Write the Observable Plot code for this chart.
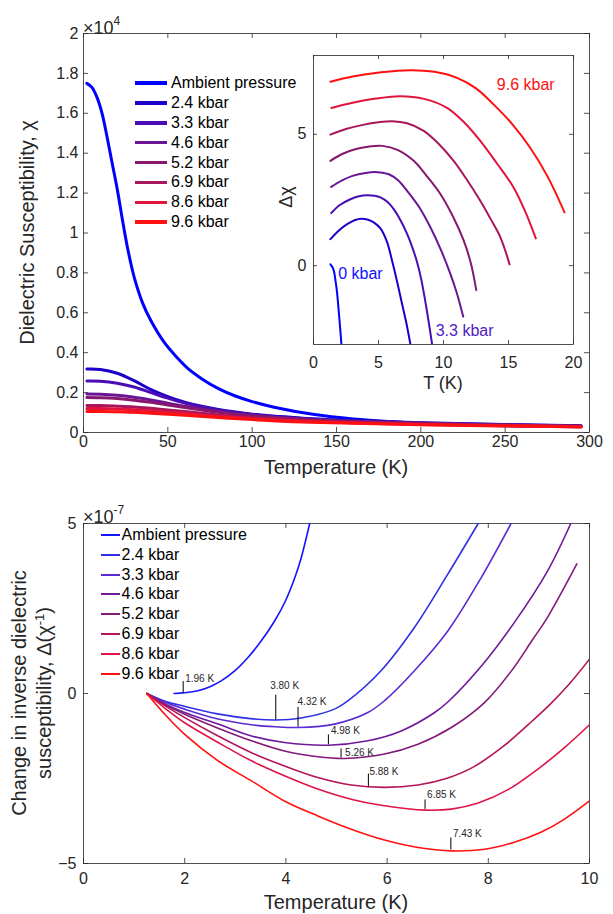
<!DOCTYPE html>
<html><head><meta charset="utf-8">
<script src="https://cdn.jsdelivr.net/npm/d3@7"></script>
<script src="https://cdn.jsdelivr.net/npm/@observablehq/plot@0.6"></script>
<style>
body{margin:0;background:#fff;font-family:"Liberation Sans",Arial,sans-serif;}
#wrap{position:relative;width:613px;height:914px;overflow:hidden;}
#wrap svg{position:absolute;}
.leg{position:absolute;font-size:16px;color:#000;}
.leg .row{display:flex;align-items:center;white-space:nowrap;}
.leg .ln{display:inline-block;}
.expo{position:absolute;font-size:18px;color:#262626;line-height:20px;white-space:nowrap;}
.expo sup{font-size:12px;position:relative;top:-2px;}
</style></head><body><div id="wrap"></div>
<script>
// ---------- series ----------
const seriesNames = ["Ambient pressure","2.4 kbar","3.3 kbar","4.6 kbar","5.2 kbar","6.9 kbar","8.6 kbar","9.6 kbar"];
const topColors = ["#0000ff","#1a00c8","#4a0cb4","#6a1496","#86186e","#a8165c","#e0143c","#ff1010"];
const bottomColors = ["#1414ff","#3030e6","#5a2ad2","#6e1a9a","#821a7a","#b4145a","#e01446","#ff1010"];

// ---------- top panel: chi (x1e4) vs T (K) ----------
const ambT = [2,5,8,11,14,17,20,23,26,30,35,40,48,55,62,70,80,90,100,113,137,160,183,206,250,295];
const ambChi = [1.75,1.73,1.68,1.6,1.48,1.35,1.22,1.07,0.93,0.78,0.65,0.56,0.45,0.38,0.32,0.27,0.22,0.183,0.155,0.127,0.09,0.068,0.054,0.044,0.034,0.029];
const presT = [2,10,20,30,40,50,60,80,100,130,160,200,250,295];
const chi24 = [0.318,0.316,0.297,0.26,0.215,0.18,0.152,0.115,0.092,0.072,0.06,0.049,0.04,0.034];
const chi33 = [0.258,0.257,0.247,0.228,0.2,0.172,0.148,0.113,0.09,0.07,0.058,0.048,0.039,0.033];
const chi46 = [0.193,0.192,0.187,0.177,0.163,0.147,0.132,0.105,0.086,0.067,0.056,0.046,0.038,0.032];
const chi52 = [0.175,0.174,0.17,0.162,0.151,0.138,0.125,0.101,0.083,0.065,0.054,0.045,0.037,0.031];
const chi69 = [0.135,0.135,0.132,0.128,0.121,0.113,0.105,0.088,0.074,0.06,0.05,0.042,0.035,0.03];
const chi86 = [0.12,0.12,0.118,0.114,0.109,0.102,0.095,0.081,0.069,0.056,0.048,0.04,0.034,0.029];
const chi96 = [0.105,0.105,0.104,0.101,0.097,0.092,0.086,0.075,0.065,0.053,0.046,0.039,0.033,0.028];
const topXTicks = [0,50,100,150,200,250,300];
const topYTicks = [0,0.2,0.4,0.6,0.8,1,1.2,1.4,1.6,1.8,2];

// ---------- inset: delta chi vs T ----------
const inT0 = [1.3,1.45,1.56,1.7,1.82,2.02,2.15];
const inD0 = [0.05,-0.05,-0.18,-0.6,-1.06,-2.2,-3.0];
const inT24 = [1.3,2.0,2.59,3.2,3.69,4.2,4.63,5.15,5.66,6.04,6.45,6.81,7.15,7.45];
const inD24 = [1.01,1.36,1.58,1.74,1.79,1.75,1.65,1.42,0.9,0.2,-0.65,-1.45,-2.2,-2.98];
const inT33 = [1.36,2.0,2.8,3.5,4.12,4.7,5.15,5.7,6.17,6.7,7.2,7.6,7.96,8.3,8.7,9.12];
const inD33 = [2.0,2.3,2.52,2.64,2.68,2.66,2.6,2.42,2.15,1.72,1.21,0.7,0.15,-0.55,-1.65,-2.98];
const inT46 = [1.36,2.2,3.0,4.0,4.89,5.8,6.5,7.2,8.1,8.99,9.8,10.52,11.0,11.52];
const inD46 = [3.0,3.25,3.42,3.53,3.56,3.48,3.25,2.85,2.25,1.46,0.6,-0.3,-1.0,-1.94];
const inT52 = [1.3,2.2,3.2,4.2,5.28,6.5,7.71,8.7,9.76,10.7,11.55,12.1,12.52];
const inD52 = [3.99,4.25,4.43,4.53,4.56,4.4,3.99,3.42,2.73,1.9,0.96,0.1,-0.93];
const inT69 = [1.3,2.5,3.8,5.0,6.04,7.2,8.48,9.6,10.78,11.8,12.83,13.6,14.37,15.08];
const inD69 = [4.99,5.2,5.36,5.46,5.5,5.42,5.13,4.65,3.99,3.27,2.47,1.8,1.09,0.05];
const inT86 = [1.38,3.0,4.8,6.68,8.5,10.27,11.6,12.83,14.1,15.39,16.3,17.1];
const inD86 = [6.0,6.2,6.36,6.45,6.35,6.01,5.45,4.75,3.9,2.98,2.05,1.04];
const inT96 = [1.3,3.0,5.2,7.45,9.3,11.04,12.5,13.85,15.3,16.67,18.0,19.31];
const inD96 = [7.0,7.2,7.36,7.44,7.38,7.15,6.75,6.14,5.38,4.49,3.4,2.03];
const insetXTicks = [0,5,10,15,20];
const insetYTicks = [0,5];
const insetLabels = ["0 kbar","3.3 kbar","9.6 kbar"];
const insetLabelT = [1.9,9.4,14.1];
const insetLabelD = [-0.3,-2.5,6.9];
const insetLabelColors = ["#1010ff","#5020c8","#ff1010"];

// ---------- bottom panel: delta(1/chi) (x1e-7) vs T ----------
const bT_amb = [1.79,2.0,2.26,2.5,2.72,3.0,3.25,3.5,3.78,4.0,4.17,4.3,4.47];
const bV_amb = [0,0.02,0.08,0.2,0.37,0.68,1.06,1.52,2.14,2.75,3.38,3.98,5.0];
const bT_24 = [1.25,1.6,2.0,2.65,3.3,3.8,4.3,4.96,5.23,5.88,6.54,7.2,7.8];
const bV_24 = [0,-0.22,-0.38,-0.6,-0.74,-0.78,-0.72,-0.46,-0.21,0.67,1.94,3.51,5.0];
const bT_33 = [1.25,1.6,2.0,2.66,3.32,3.8,4.25,4.96,5.62,5.95,6.54,7.2,7.86,8.45];
const bV_33 = [0,-0.25,-0.46,-0.75,-0.92,-0.98,-1.0,-0.9,-0.56,-0.21,0.67,1.84,3.41,5.0];
const bT_46 = [1.25,1.6,2.0,2.66,3.32,3.97,4.84,5.62,6.28,6.94,7.2,7.86,8.52,9.17,9.63];
const bV_46 = [0,-0.3,-0.56,-0.9,-1.25,-1.44,-1.52,-1.39,-1.1,-0.56,-0.25,0.8,2.1,3.6,5.0];
const bT_52 = [1.25,1.6,2.0,2.66,3.32,3.97,4.63,5.16,5.95,6.61,7.27,7.93,8.46,8.86,9.17,9.75];
const bV_52 = [0,-0.32,-0.61,-1.02,-1.39,-1.69,-1.86,-1.91,-1.78,-1.49,-1.0,-0.26,0.67,1.55,2.24,3.81];
const bT_69 = [1.25,1.6,2.0,2.66,3.32,3.97,4.63,5.29,5.95,6.61,7.17,7.72,8.3,8.8,9.2,9.6,10];
const bV_69 = [0,-0.35,-0.71,-1.25,-1.74,-2.13,-2.47,-2.69,-2.76,-2.69,-2.5,-2.15,-1.55,-0.9,-0.35,0.28,1.01];
const bT_86 = [1.25,1.6,2.0,2.66,3.32,3.97,4.63,5.29,5.95,6.75,7.27,7.8,8.4,9.0,9.5,10];
const bV_86 = [0,-0.42,-0.86,-1.44,-1.98,-2.42,-2.81,-3.11,-3.3,-3.43,-3.4,-3.22,-2.82,-2.2,-1.6,-0.92];
const bT_96 = [1.25,1.6,2.0,2.66,3.32,3.97,4.63,5.29,5.95,6.61,7.27,7.93,8.5,9.04,9.5,10];
const bV_96 = [0,-0.6,-1.2,-1.98,-2.57,-3.16,-3.6,-3.99,-4.31,-4.53,-4.63,-4.58,-4.38,-4.08,-3.7,-3.16];
const bottomXTicks = [0,2,4,6,8,10];
const bottomYTicks = [-5,0,5];
// minima markers
const minLabels = ["1.96 K","3.80 K","4.32 K","4.98 K","5.26 K","5.88 K","6.85 K","7.43 K"];
const markT = [1.97,3.80,4.24,4.84,5.09,5.63,6.75,7.26];
const markBottom = [0,-0.78,-0.99,-1.51,-1.90,-2.75,-3.41,-4.60];
const markTop = [0.35,-0.05,-0.41,-1.22,-1.63,-2.37,-3.13,-4.25];
const labelT = [2.01,3.69,4.23,4.89,5.17,5.65,6.79,7.30];
const labelV = [0.42,0.23,-0.24,-1.10,-1.74,-2.29,-2.98,-4.12];

// ---------- build tables ----------
function rows(Ts, Vs, name){ return Ts.map((t,i)=>({T:t, v:Vs[i], s:name})); }
const topData = [
  ...rows(ambT, ambChi, seriesNames[0]),
  ...rows(presT, chi24, seriesNames[1]),
  ...rows(presT, chi33, seriesNames[2]),
  ...rows(presT, chi46, seriesNames[3]),
  ...rows(presT, chi52, seriesNames[4]),
  ...rows(presT, chi69, seriesNames[5]),
  ...rows(presT, chi86, seriesNames[6]),
  ...rows(presT, chi96, seriesNames[7])
];
const insetData = [
  ...rows(inT0, inD0, seriesNames[0]),
  ...rows(inT24, inD24, seriesNames[1]),
  ...rows(inT33, inD33, seriesNames[2]),
  ...rows(inT46, inD46, seriesNames[3]),
  ...rows(inT52, inD52, seriesNames[4]),
  ...rows(inT69, inD69, seriesNames[5]),
  ...rows(inT86, inD86, seriesNames[6]),
  ...rows(inT96, inD96, seriesNames[7])
];
const bottomData = [
  ...rows(bT_amb, bV_amb, seriesNames[0]),
  ...rows(bT_24, bV_24, seriesNames[1]),
  ...rows(bT_33, bV_33, seriesNames[2]),
  ...rows(bT_46, bV_46, seriesNames[3]),
  ...rows(bT_52, bV_52, seriesNames[4]),
  ...rows(bT_69, bV_69, seriesNames[5]),
  ...rows(bT_86, bV_86, seriesNames[6]),
  ...rows(bT_96, bV_96, seriesNames[7])
];
const markers = minLabels.map((l,i)=>({label:l, T:markT[i], b:markBottom[i], t:markTop[i], lt:labelT[i], lv:labelV[i]}));
const insetLab = insetLabels.map((l,i)=>({label:l, T:insetLabelT[i], v:insetLabelD[i], c:insetLabelColors[i]}));

const FONT = '"Liberation Sans", Arial, sans-serif';
const AX = "#262626";
function boxTicks(xt, yt, fw, fh, len){
  const o = {stroke: AX, strokeWidth: 0.8};
  return [
    Plot.tickX(xt, {x: d=>d, insetTop: fh-len, ...o}),
    Plot.tickX(xt, {x: d=>d, insetBottom: fh-len, ...o}),
    Plot.tickY(yt, {y: d=>d, insetRight: fw-len, ...o}),
    Plot.tickY(yt, {y: d=>d, insetLeft: fw-len, ...o})
  ];
}
const fmt = d => d3.format("~g")(d);
const wrap = document.getElementById("wrap");

// ---------- top plot ----------
{
  const W=613,H=490,mL=83,mR=24,mT=33,mB=58;
  const fw=W-mL-mR, fh=H-mT-mB;
  const p = Plot.plot({
    width:W, height:H, marginLeft:mL, marginRight:mR, marginTop:mT, marginBottom:mB,
    style:{fontFamily:FONT, fontSize:"16px", color:AX, background:"transparent", overflow:"visible"},
    x:{domain:[0,300]}, y:{domain:[0,2]},
    color:{type:"ordinal", domain:seriesNames, range:topColors},
    marks:[
      Plot.frame({stroke:AX, strokeWidth:0.8}),
      ...boxTicks(topXTicks, topYTicks, fw, fh, 5),
      Plot.axisX(topXTicks, {tickSize:0, tickPadding:3, label:null, tickFormat:fmt}),
      Plot.axisY(topYTicks, {tickSize:0, tickPadding:5, label:null, tickFormat:fmt}),
      Plot.line(topData, {x:"T", y:"v", z:"s", stroke:"s", strokeWidth:3, curve:"catmull-rom"})
    ]
  });
  p.style.left="0px"; p.style.top="0px";
  const s = d3.select(p);
  s.append("text").attr("x", mL+fw/2).attr("y", 467).attr("dy","0.35em").attr("text-anchor","middle")
    .attr("font-size",20).attr("fill",AX).text("Temperature (K)");
  s.append("text").attr("transform",`translate(27,${mT+fh/2}) rotate(-90)`).attr("dy","0.35em").attr("text-anchor","middle")
    .attr("font-size",20).attr("fill",AX).text("Dielectric Susceptibility, χ");
  wrap.appendChild(p);
}

// ---------- inset ----------
{
  const W=313,H=355,mL=43,mR=10,mT=10,mB=56;
  const fw=W-mL-mR, fh=H-mT-mB;
  const p = Plot.plot({
    width:W, height:H, marginLeft:mL, marginRight:mR, marginTop:mT, marginBottom:mB,
    style:{fontFamily:FONT, fontSize:"16px", color:AX, background:"transparent", overflow:"visible"},
    x:{domain:[0,20]}, y:{domain:[-3,8]},
    color:{type:"ordinal", domain:seriesNames, range:topColors},
    marks:[
      Plot.frame({fill:"white", stroke:AX, strokeWidth:0.8}),
      ...boxTicks(insetXTicks, insetYTicks, fw, fh, 4),
      Plot.axisX(insetXTicks, {tickSize:0, tickPadding:12, label:null}),
      Plot.axisY(insetYTicks, {tickSize:0, tickPadding:7, label:null}),
      Plot.line(insetData, {x:"T", y:"v", z:"s", stroke:"s", strokeWidth:2, curve:"catmull-rom", clip:true}),
      Plot.text(insetLab, {x:"T", y:"v", text:"label", fill:"c", textAnchor:"start", fontSize:16})
    ]
  });
  p.style.left="270px"; p.style.top="45px";
  const s = d3.select(p);
  s.append("text").attr("x", mL+fw/2).attr("y", 383-45).attr("dy","0.35em").attr("text-anchor","middle")
    .attr("font-size",18).attr("fill",AX).text("T (K)");
  s.append("text").attr("transform",`translate(${286-270},${197-45}) rotate(-90)`).attr("dy","0.35em").attr("text-anchor","middle")
    .attr("font-size",18).attr("fill",AX).text("Δχ");
  wrap.appendChild(p);
}

// ---------- bottom plot ----------
{
  const W=613,H=424,mL=83,mR=24,mT=33,mB=51, top=490;
  const fw=W-mL-mR, fh=H-mT-mB;
  const p = Plot.plot({
    width:W, height:H, marginLeft:mL, marginRight:mR, marginTop:mT, marginBottom:mB,
    style:{fontFamily:FONT, fontSize:"16px", color:AX, background:"transparent", overflow:"visible"},
    x:{domain:[0,10]}, y:{domain:[-5,5]},
    color:{type:"ordinal", domain:seriesNames, range:bottomColors},
    marks:[
      Plot.frame({stroke:AX, strokeWidth:0.8}),
      ...boxTicks(bottomXTicks, bottomYTicks, fw, fh, 5),
      Plot.axisX(bottomXTicks, {tickSize:0, tickPadding:9, label:null}),
      Plot.axisY(bottomYTicks, {tickSize:0, tickPadding:7, label:null}),
      Plot.line(bottomData, {x:"T", y:"v", z:"s", stroke:"s", strokeWidth:1.6, curve:"catmull-rom", clip:true}),
      Plot.ruleX(markers, {x:"T", y1:"b", y2:"t", stroke:"#000", strokeWidth:1}),
      Plot.text(markers, {x:"lt", y:"lv", text:"label", textAnchor:"start", fontSize:10, fill:AX})
    ]
  });
  p.style.left="0px"; p.style.top=top+"px";
  const s = d3.select(p);
  s.append("text").attr("x", mL+fw/2).attr("y", 902-top).attr("dy","0.35em").attr("text-anchor","middle")
    .attr("font-size",20).attr("fill",AX).text("Temperature (K)");
  const cy = mT+fh/2;
  s.append("text").attr("transform",`translate(18.5,${cy}) rotate(-90)`).attr("dy","0.35em").attr("text-anchor","middle")
    .attr("font-size",20).attr("fill",AX).text("Change in inverse dielectric");
  const t2 = s.append("text").attr("transform",`translate(43.5,${cy}) rotate(-90)`).attr("dy","0.35em").attr("text-anchor","middle")
    .attr("font-size",20).attr("fill",AX);
  t2.append("tspan").text("susceptibility, Δ(χ");
  t2.append("tspan").attr("font-size",13).attr("baseline-shift","super").text("-1");
  t2.append("tspan").text(")");
  wrap.appendChild(p);
}

// ---------- legends & exponents ----------
function legend(colors, left, top, rowH, lineW, lineH, gap){
  const d = document.createElement("div");
  d.className="leg"; d.style.left=left+"px"; d.style.top=top+"px";
  seriesNames.forEach((n,i)=>{
    const r=document.createElement("div"); r.className="row"; r.style.height=rowH+"px";
    const l=document.createElement("span"); l.className="ln";
    l.style.width=lineW+"px"; l.style.height=lineH+"px"; l.style.background=colors[i]; l.style.marginRight=gap+"px";
    const t=document.createElement("span"); t.textContent=n;
    r.appendChild(l); r.appendChild(t); d.appendChild(r);
  });
  wrap.appendChild(d);
}
legend(topColors, 135, 83-9.95, 19.9, 32, 3.5, 4);
legend(bottomColors, 101, 535-9.9, 19.8, 19, 2, 1.5);

function expo(left, centerY, sup){
  const d=document.createElement("div"); d.className="expo";
  d.style.left=left+"px"; d.style.top=(centerY-10)+"px";
  d.innerHTML = "×10<sup>"+sup+"</sup>";
  wrap.appendChild(d);
}
expo(83, 23, "4");
expo(83, 511.5, "-7");
</script></body></html>
